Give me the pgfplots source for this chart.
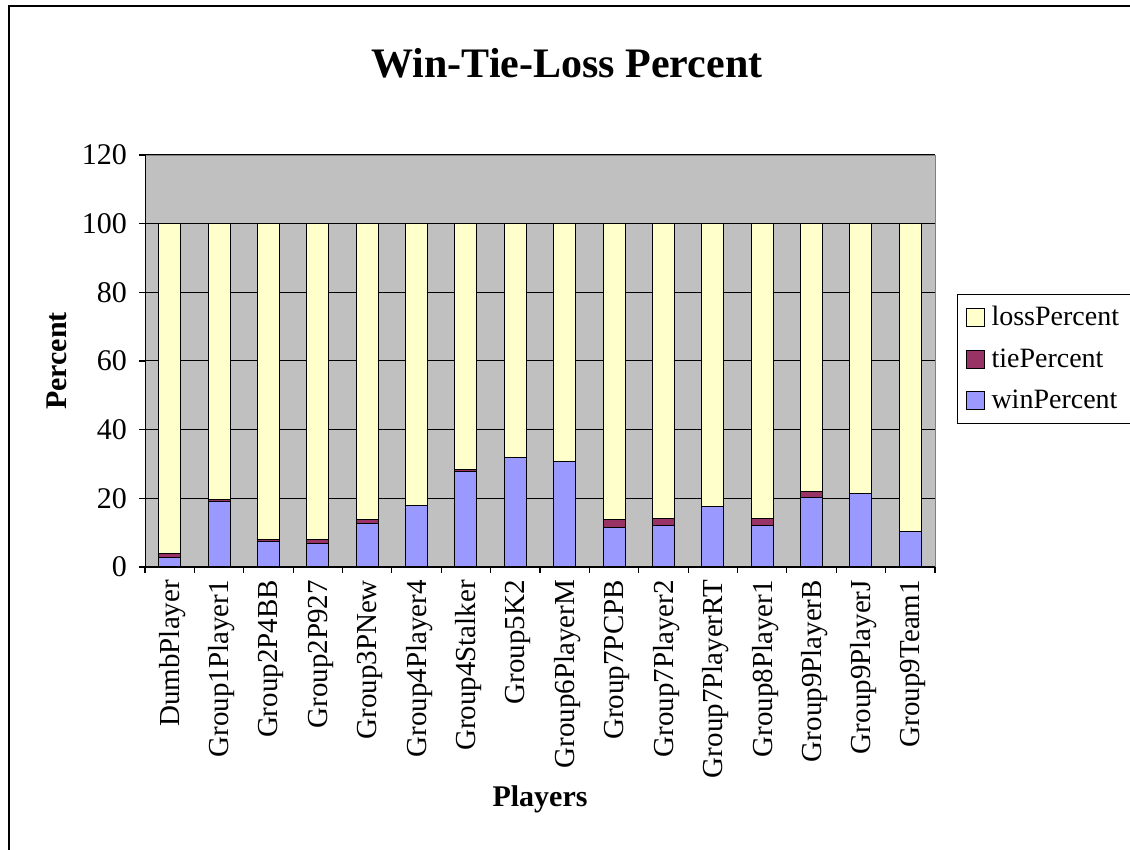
\documentclass[border=0pt]{standalone}
\usepackage{pgfplots}
\usepackage{pgfplotstable}
\pgfplotsset{compat=1.18}
\usepackage{fontspec}
\setmainfont{Liberation Serif}
\definecolor{plotgray}{RGB}{192,192,192}
\definecolor{lossc}{RGB}{255,255,204}
\definecolor{tiec}{RGB}{153,51,102}
\definecolor{winc}{RGB}{153,153,255}
\pgfplotsset{sqleg/.style={legend image code/.code={\draw[##1] (0pt,-4.5pt) rectangle (9pt,4.5pt); \path (10.5pt,0pt);}}}

\pgfplotstableread{
idx win  tie loss
0   2.8  1.0 96.2
1   19.0 0.6 80.4
2   7.4  0.5 92.1
3   6.7  1.2 92.1
4   12.7 1.2 86.1
5   17.8 0.0 82.2
6   27.8 0.5 71.7
7   31.8 0.0 68.2
8   30.6 0.0 69.4
9   11.5 2.4 86.1
10  12.0 2.0 86.0
11  17.7 0.0 82.3
12  12.0 2.0 86.0
13  20.2 1.8 78.0
14  21.4 0.0 78.6
15  10.4 0.0 89.6
}\wtl

\begin{document}
\begin{tikzpicture}
  \useasboundingbox (0,0) rectangle (565pt,425pt);
  \draw[line width=0.8pt] (4.5pt,-2pt) -- (4.5pt,422pt) -- (570pt,422pt);
  \node[font=\fontsize{21}{25}\selectfont\bfseries] at (283.5pt,393.5pt) {Win-Tie-Loss Percent};
  \begin{axis}[
    at={(72.5pt,141.5pt)}, anchor=south west,
    scale only axis, width=395pt, height=206pt,
    ybar stacked, bar width=11pt,
    xmin=-0.5, xmax=15.5, ymin=0, ymax=120,
    axis background/.style={fill=plotgray, draw=gray},
    axis x line*=bottom, axis y line*=left,
    xtick={0,...,15},
    xticklabels={DumbPlayer,Group1Player1,Group2P4BB,Group2P927,Group3PNew,Group4Player4,Group4Stalker,Group5K2,Group6PlayerM,Group7PCPB,Group7Player2,Group7PlayerRT,Group8Player1,Group9PlayerB,Group9PlayerJ,Group9Team1},
    minor xtick={-0.5,0.5,...,15.5},
    major x tick style={draw=none},
    ytick={0,20,...,120},
    tick align=outside, major tick length=3pt, minor tick length=3pt,
    tick style={black, line width=0.6pt},
    ymajorgrids, grid style={black, line width=0.5pt},
    xticklabel style={rotate=90, anchor=east, yshift=-1.5pt, font=\fontsize{14.5}{17}\selectfont},
    yticklabel style={xshift=-2.5pt, font=\fontsize{15}{18}\selectfont},
    /pgf/number format/assume math mode=true,
    xlabel={\bfseries Players},
    ylabel={\bfseries Percent},
    label style={font=\fontsize{15}{18}\selectfont},
    xlabel style={at={(axis description cs:0.5,-0.563)}, anchor=center},
    ylabel style={at={(axis description cs:-0.112,0.5)}, anchor=center},
    reverse legend,
    legend style={at={(1.028,0.663)}, anchor=north west, draw=black,
      font=\fontsize{14}{16}\selectfont, row sep=6pt, inner sep=4pt,
      legend cell align=left},
  ]
    \addplot[fill=winc, draw=black, line width=0.5pt, sqleg]
      table[x=idx, y=win] {\wtl};
    \addlegendentry{winPercent}
    \addplot[fill=tiec, draw=black, line width=0.5pt, sqleg]
      table[x=idx, y=tie] {\wtl};
    \addlegendentry{tiePercent}
    \addplot[fill=lossc, draw=black, line width=0.5pt, sqleg]
      table[x=idx, y=loss] {\wtl};
    \addlegendentry{lossPercent}
  \end{axis}
\end{tikzpicture}
\end{document}
